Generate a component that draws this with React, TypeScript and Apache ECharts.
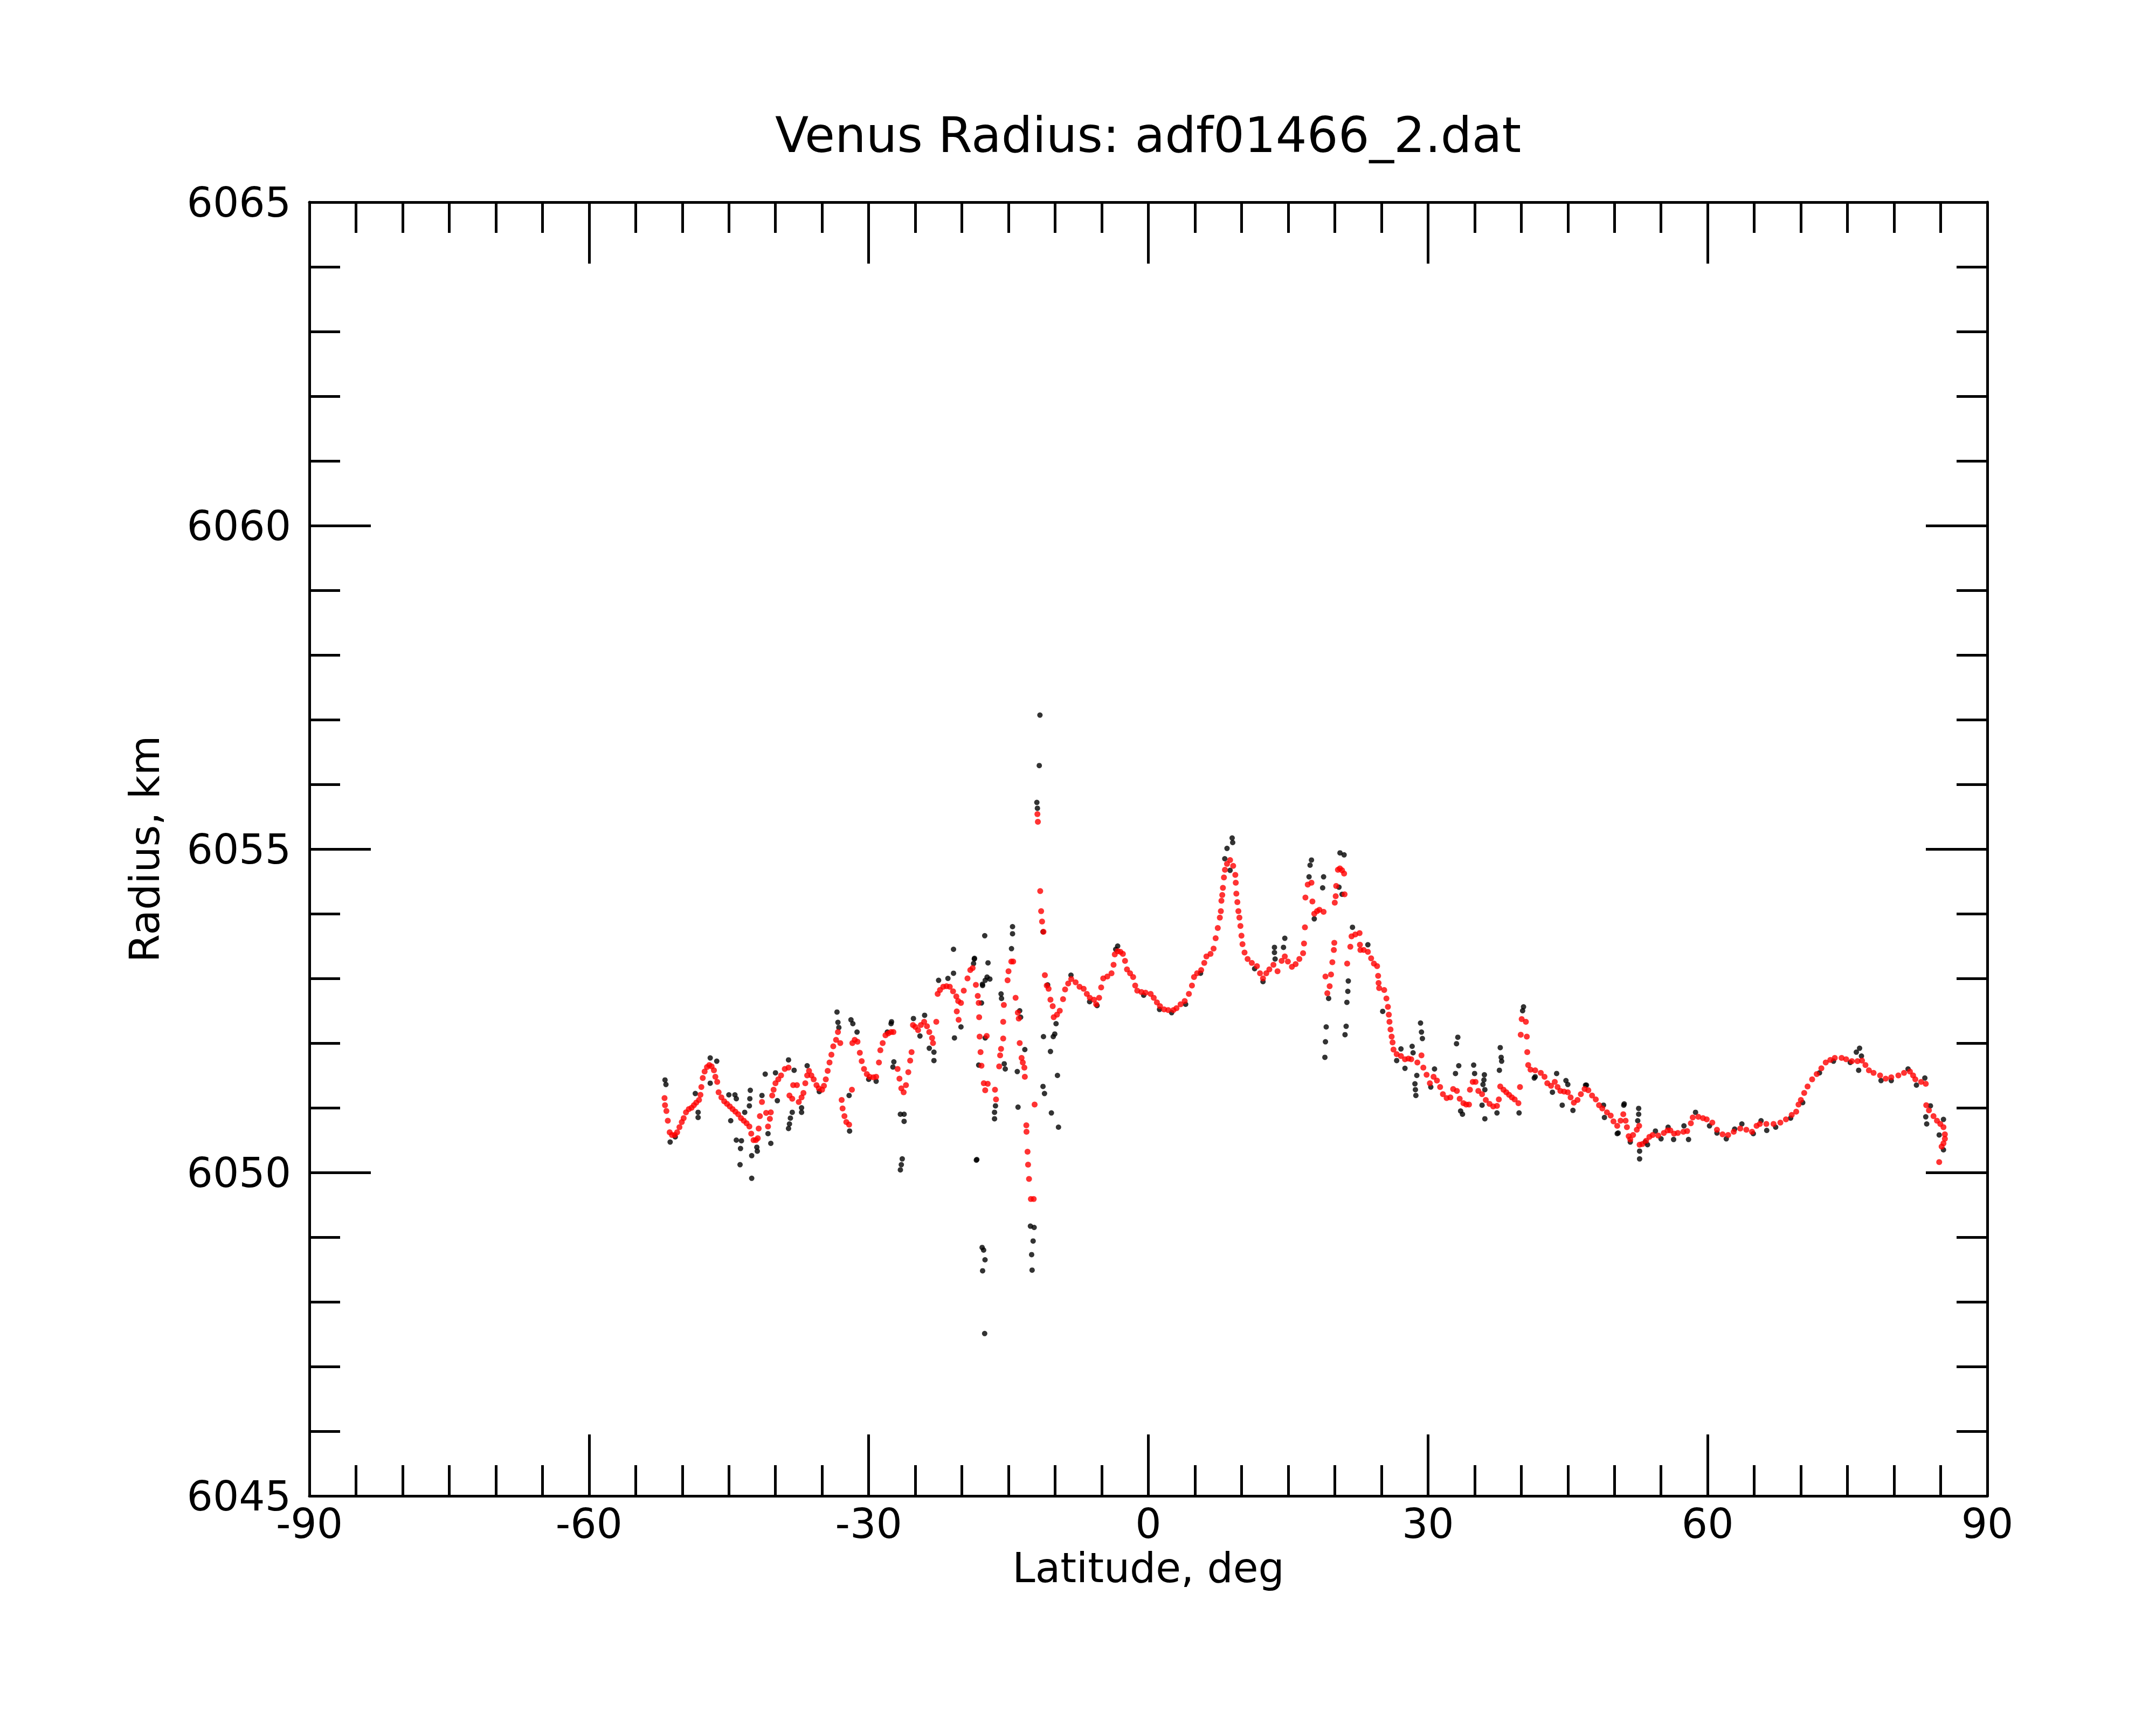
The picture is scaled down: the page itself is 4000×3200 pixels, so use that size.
import React, { useEffect, useRef } from "react";
import * as echarts from "echarts";

// ---- tick labels / axis settings ----
const xTicks = [-90, -60, -30, 0, 30, 60, 90];
const yTicks = [6045, 6050, 6055, 6060, 6065];
const titleText = "Venus Radius: adf01466_2.dat";
const xName = "Latitude, deg";
const yName = "Radius, km";

// ---- red (smoothed) points: [latitude, radius] ----
const redSouth: [number, number][] = [
  [-51.9, 6051.15], [-51.85, 6051.04], [-51.7, 6050.95], [-51.55, 6050.8], [-51.35, 6050.62],
  [-51.1, 6050.58], [-50.8, 6050.58], [-50.55, 6050.62], [-50.3, 6050.7], [-50.05, 6050.78],
  [-49.85, 6050.84], [-49.6, 6050.93], [-49.3, 6050.98], [-49.0, 6051.0], [-48.75, 6051.04],
  [-48.5, 6051.08], [-48.2, 6051.12], [-48.05, 6051.2], [-47.95, 6051.32], [-47.8, 6051.46],
  [-47.6, 6051.56], [-47.35, 6051.63], [-47.1, 6051.66], [-46.85, 6051.64], [-46.6, 6051.58],
  [-46.45, 6051.48], [-46.25, 6051.4], [-46.1, 6051.24], [-45.8, 6051.16], [-45.5, 6051.1],
  [-45.2, 6051.06], [-44.9, 6051.02], [-44.6, 6050.98], [-44.3, 6050.94], [-44.0, 6050.9],
  [-43.7, 6050.84], [-43.4, 6050.8], [-43.1, 6050.76], [-42.8, 6050.71], [-42.6, 6050.6],
  [-42.35, 6050.5], [-42.1, 6050.5], [-41.9, 6050.53], [-41.8, 6050.68], [-41.67, 6050.87],
  [-41.45, 6051.09], [-41.0, 6050.92], [-40.8, 6050.71], [-40.6, 6050.83], [-40.5, 6050.93],
  [-40.35, 6051.19], [-40.2, 6051.28], [-40.0, 6051.38], [-39.7, 6051.44], [-39.4, 6051.5],
  [-39.0, 6051.6], [-38.6, 6051.62], [-38.5, 6051.19], [-38.2, 6051.14], [-38.1, 6051.35],
  [-37.7, 6051.35], [-37.5, 6051.09], [-37.2, 6051.16], [-37.0, 6051.23], [-36.8, 6051.38],
  [-36.6, 6051.5], [-36.4, 6051.57], [-36.15, 6051.5], [-35.9, 6051.44], [-35.6, 6051.35],
  [-35.35, 6051.3], [-35.0, 6051.28], [-34.8, 6051.34], [-34.6, 6051.44], [-34.4, 6051.57],
  [-34.2, 6051.7], [-34.0, 6051.82], [-33.8, 6051.95], [-33.5, 6052.05], [-33.3, 6052.17],
  [-33.05, 6052.0], [-32.9, 6051.12], [-32.8, 6050.99], [-32.6, 6050.87], [-32.4, 6050.78],
  [-32.1, 6050.74], [-31.8, 6051.28], [-31.75, 6052.0], [-31.5, 6052.05], [-31.2, 6052.02],
  [-30.95, 6051.85], [-30.75, 6051.72], [-30.5, 6051.6], [-30.2, 6051.52], [-29.9, 6051.48],
  [-29.5, 6051.47], [-29.2, 6051.48], [-28.9, 6051.7], [-28.75, 6051.89], [-28.5, 6052.0],
  [-28.2, 6052.12], [-27.9, 6052.15], [-27.6, 6052.17], [-27.35, 6052.17], [-26.9, 6051.6],
  [-26.7, 6051.45], [-26.5, 6051.3], [-26.25, 6051.24], [-26.0, 6051.35], [-25.75, 6051.55],
  [-25.55, 6051.73], [-25.4, 6051.86], [-25.25, 6052.28], [-25.0, 6052.25], [-24.7, 6052.2],
  [-24.4, 6052.28], [-24.05, 6052.33], [-23.75, 6052.26], [-23.5, 6052.17], [-23.2, 6052.08],
  [-23.1, 6052.0], [-22.75, 6052.33], [-22.6, 6052.76], [-22.35, 6052.82], [-22.0, 6052.87],
  [-21.65, 6052.88], [-21.3, 6052.87], [-20.95, 6052.8], [-20.6, 6052.72], [-20.55, 6052.49],
  [-20.4, 6052.65], [-20.35, 6052.36], [-20.1, 6052.62], [-19.8, 6052.81], [-19.4, 6053.0],
  [-19.1, 6053.13], [-18.85, 6053.16], [-18.5, 6052.9], [-18.3, 6052.73], [-18.2, 6052.62],
  [-18.15, 6052.4], [-18.1, 6052.1], [-18.0, 6051.86], [-17.9, 6051.65], [-17.65, 6051.38],
  [-17.5, 6051.27],
];

const redMiddle: [number, number][] = [
  [-17.34, 6052.11], [-17.23, 6051.37], [-16.45, 6051.28], [-16.34, 6051.13], [-16.0, 6051.64],
  [-15.9, 6051.81], [-15.8, 6051.91], [-15.57, 6052.07], [-15.57, 6052.33], [-15.5, 6052.59],
  [-15.1, 6052.97], [-15.0, 6053.11], [-14.7, 6053.26], [-14.5, 6053.26], [-14.24, 6052.7],
  [-14.0, 6052.47], [-13.9, 6052.38], [-13.8, 6052.0], [-13.6, 6051.77], [-13.47, 6051.7],
  [-13.3, 6051.62], [-13.25, 6051.48], [-13.09, 6050.73], [-13.07, 6050.63], [-12.96, 6050.32],
  [-12.9, 6050.12], [-12.8, 6049.9], [-12.6, 6049.59], [-12.3, 6049.59], [-12.2, 6051.05],
  [-11.9, 6055.54], [-11.85, 6055.42], [-11.6, 6054.35], [-11.5, 6054.04], [-11.4, 6053.88],
  [-11.25, 6053.72], [-11.1, 6053.05], [-10.9, 6052.89], [-10.7, 6052.84], [-10.5, 6052.67],
  [-10.26, 6052.57], [-10.15, 6052.4], [-9.8, 6052.44], [-9.5, 6052.5], [-9.15, 6052.68],
  [-8.93, 6052.83], [-8.6, 6052.92], [-8.27, 6052.99], [-7.8, 6052.94], [-7.38, 6052.87],
  [-6.94, 6052.84], [-6.6, 6052.76], [-6.28, 6052.7], [-5.83, 6052.67], [-5.6, 6052.6],
  [-5.28, 6052.7], [-5.06, 6052.86], [-4.84, 6053.0], [-4.4, 6053.03], [-3.95, 6053.08],
  [-3.73, 6053.21], [-3.6, 6053.37], [-3.29, 6053.42], [-3.0, 6053.41], [-2.73, 6053.38],
  [-2.5, 6053.27], [-2.29, 6053.14], [-1.96, 6053.08], [-1.63, 6053.02], [-1.41, 6052.89],
  [-1.19, 6052.81], [-0.74, 6052.79], [-0.3, 6052.78], [0.25, 6052.76], [0.58, 6052.7],
  [0.92, 6052.63], [1.25, 6052.57], [1.69, 6052.52], [2.13, 6052.51], [2.69, 6052.51],
  [3.02, 6052.54], [3.46, 6052.6], [3.9, 6052.65], [4.35, 6052.76], [4.68, 6052.89],
  [4.9, 6053.02], [5.23, 6053.08], [5.67, 6053.13], [6.0, 6053.24], [6.23, 6053.34],
  [6.67, 6053.38], [7.0, 6053.46], [7.22, 6053.62], [7.45, 6053.78], [7.67, 6053.94],
  [7.78, 6054.04], [7.84, 6054.2], [7.93, 6054.29], [8.0, 6054.4], [8.11, 6054.56],
  [8.22, 6054.68], [8.44, 6054.77], [8.77, 6054.83], [9.1, 6054.74], [9.33, 6054.6],
  [9.38, 6054.48], [9.44, 6054.31], [9.55, 6054.18], [9.66, 6054.04], [9.77, 6053.94],
  [9.88, 6053.81], [9.99, 6053.66], [10.1, 6053.53], [10.32, 6053.4], [10.65, 6053.3],
  [11.1, 6053.24], [11.65, 6053.19], [11.98, 6053.08], [12.3, 6053.0], [12.65, 6053.08],
  [12.98, 6053.14], [13.42, 6053.21], [13.86, 6053.11], [14.3, 6053.27], [14.64, 6053.34],
  [14.97, 6053.26], [15.4, 6053.18],
];

const redNorth: [number, number][] = [
  [15.8, 6053.22], [16.2, 6053.3], [16.6, 6053.39], [16.7, 6053.54], [16.8, 6053.79],
  [16.85, 6054.25], [17.1, 6054.45], [17.5, 6054.48], [17.6, 6054.19], [17.8, 6054.0],
  [18.1, 6054.04], [18.35, 6054.06], [18.8, 6054.03], [19.0, 6053.03], [19.2, 6052.77],
  [19.45, 6052.88], [19.6, 6053.06], [19.74, 6053.25], [19.9, 6053.44], [19.95, 6053.55],
  [20.0, 6054.17], [20.1, 6054.27], [20.15, 6054.43], [20.34, 6054.68], [20.55, 6054.7],
  [20.78, 6054.67], [21.0, 6054.62], [21.05, 6054.3], [21.33, 6053.23], [21.67, 6053.49],
  [21.8, 6053.65], [22.2, 6053.68], [22.66, 6053.7], [22.7, 6053.52], [22.75, 6053.44],
  [23.1, 6053.44], [23.55, 6053.41], [23.9, 6053.31], [24.2, 6053.23], [24.54, 6053.19],
  [24.65, 6053.04], [24.7, 6052.93], [24.76, 6052.85], [25.3, 6052.82], [25.54, 6052.69],
  [25.7, 6052.56], [25.8, 6052.44], [25.87, 6052.33], [25.98, 6052.21], [26.1, 6052.1],
  [26.2, 6052.01], [26.3, 6051.9], [26.64, 6051.83], [27.1, 6051.8], [27.53, 6051.75],
  [27.9, 6051.76], [28.2, 6051.75], [28.86, 6051.7], [29.3, 6051.81], [29.5, 6051.62],
  [29.85, 6051.51], [30.2, 6051.38], [30.6, 6051.48], [30.96, 6051.42], [31.3, 6051.32],
  [31.6, 6051.21], [32.0, 6051.15], [32.4, 6051.16], [32.7, 6051.29], [33.1, 6051.26],
  [33.4, 6051.14], [33.8, 6051.07], [34.1, 6051.05], [34.4, 6051.05], [34.5, 6051.28],
  [34.8, 6051.4], [35.1, 6051.4], [35.4, 6051.26], [35.8, 6051.21], [36.2, 6051.12],
  [36.6, 6051.06], [37.0, 6051.02], [37.4, 6051.03], [37.6, 6051.13], [37.75, 6051.33],
  [38.1, 6051.28], [38.4, 6051.24], [38.7, 6051.2], [39.0, 6051.16], [39.3, 6051.13],
  [39.7, 6051.07], [39.87, 6051.32], [39.95, 6052.13], [40.05, 6052.37], [40.5, 6052.33],
  [40.6, 6052.1], [40.65, 6051.86], [40.75, 6051.66], [41.0, 6051.59], [41.5, 6051.58],
  [42.1, 6051.54], [42.5, 6051.48], [42.8, 6051.38], [43.2, 6051.34], [43.6, 6051.4],
  [43.9, 6051.32], [44.2, 6051.26], [44.6, 6051.25], [45.0, 6051.24], [45.3, 6051.16],
  [45.65, 6051.08], [46.04, 6051.12], [46.4, 6051.21], [46.8, 6051.29], [47.2, 6051.27],
  [47.6, 6051.19], [48.0, 6051.13], [48.35, 6051.04], [48.7, 6050.99], [49.2, 6050.93],
  [49.6, 6050.88], [49.9, 6050.79], [50.3, 6050.72], [50.66, 6050.8], [50.95, 6050.9],
  [51.2, 6050.8], [51.34, 6050.7], [51.53, 6050.56], [51.7, 6050.51], [52.0, 6050.58],
  [52.4, 6050.66], [52.65, 6050.72], [52.7, 6050.43], [53.0, 6050.44], [53.4, 6050.49],
  [53.75, 6050.55], [54.1, 6050.58], [54.7, 6050.57], [55.3, 6050.61], [55.7, 6050.65],
  [56.0, 6050.65], [56.4, 6050.6], [56.8, 6050.61], [57.4, 6050.63], [57.8, 6050.64],
  [58.2, 6050.76], [58.4, 6050.85], [59.0, 6050.86], [59.5, 6050.84], [59.9, 6050.82],
  [60.5, 6050.77], [61.0, 6050.66], [61.6, 6050.59], [62.2, 6050.58], [62.8, 6050.63],
  [63.5, 6050.68], [64.15, 6050.66], [64.76, 6050.63], [65.25, 6050.72], [65.6, 6050.75],
  [66.3, 6050.75], [67.07, 6050.75], [67.8, 6050.77], [68.4, 6050.82], [69.02, 6050.89],
  [69.5, 6050.94], [69.75, 6051.05], [70.0, 6051.12], [70.36, 6051.23], [70.72, 6051.33],
  [71.21, 6051.44], [71.7, 6051.52], [72.2, 6051.61], [72.67, 6051.7], [73.16, 6051.74],
  [73.64, 6051.77], [74.37, 6051.77], [74.86, 6051.75], [75.47, 6051.72], [76.08, 6051.72],
  [76.56, 6051.73], [76.93, 6051.66], [77.3, 6051.58], [77.8, 6051.54], [78.5, 6051.5],
  [79.1, 6051.45], [79.7, 6051.47], [80.46, 6051.5], [81.07, 6051.54], [81.7, 6051.56],
  [82.04, 6051.5], [82.28, 6051.44], [82.9, 6051.4], [83.4, 6051.37], [83.45, 6051.04],
  [83.74, 6050.96], [84.23, 6050.87], [84.6, 6050.8], [84.96, 6050.75], [85.3, 6050.7],
  [85.45, 6050.59], [85.45, 6050.52], [85.3, 6050.45], [85.1, 6050.4], [84.84, 6050.16],
];

// ---- black (raw) points: [latitude, radius] ----
const blackSouth: [number, number][] = [
  [-51.85, 6051.43], [-51.75, 6051.36], [-51.3, 6050.47], [-50.75, 6050.55], [-48.6, 6051.22],
  [-48.3, 6050.93], [-48.3, 6050.85], [-47.0, 6051.77], [-46.3, 6051.72], [-47.0, 6051.38],
  [-45.0, 6051.2], [-44.35, 6051.2], [-44.2, 6051.14], [-44.8, 6050.8], [-44.2, 6050.5],
  [-43.65, 6050.49], [-43.75, 6050.37], [-43.8, 6050.12], [-43.3, 6050.93], [-42.7, 6051.27],
  [-42.75, 6051.14], [-42.8, 6051.03], [-42.55, 6050.26], [-42.55, 6049.91], [-42.0, 6050.39],
  [-41.95, 6050.33], [-41.1, 6051.52], [-41.45, 6051.19], [-40.8, 6050.6], [-40.5, 6050.45],
  [-39.8, 6051.11], [-40.0, 6051.54], [-38.6, 6051.74], [-38.6, 6050.68], [-38.5, 6050.75],
  [-38.4, 6050.84], [-38.2, 6050.93], [-38.0, 6051.58], [-37.2, 6050.93], [-37.2, 6051.0],
  [-36.6, 6051.65], [-35.3, 6051.25], [-33.4, 6052.48], [-33.3, 6052.32], [-33.2, 6052.24],
  [-32.05, 6050.64], [-32.1, 6051.19], [-31.9, 6052.36], [-31.7, 6052.3], [-31.25, 6052.17],
  [-30.0, 6051.44], [-29.2, 6051.41], [-28.0, 6052.17], [-27.6, 6052.3], [-27.55, 6052.33],
  [-27.4, 6051.63], [-27.3, 6051.71], [-26.6, 6050.9], [-26.2, 6050.9], [-26.2, 6050.79],
  [-26.4, 6050.21], [-26.5, 6050.12], [-26.6, 6050.04], [-25.2, 6052.38], [-24.5, 6052.11],
  [-24.0, 6052.43], [-23.5, 6051.92], [-23.0, 6051.86], [-23.0, 6051.73], [-22.5, 6052.97],
  [-21.5, 6053.0], [-20.9, 6053.08], [-20.9, 6053.45], [-20.8, 6052.08], [-20.1, 6052.25],
  [-18.65, 6053.31], [-18.75, 6053.23], [-18.4, 6050.2], [-17.9, 6052.62], [-17.8, 6052.91],
  [-17.55, 6053.66], [-17.5, 6052.97], [-18.2, 6051.66], [-17.5, 6052.08],
];

const blackMiddle: [number, number][] = [
  [-18.67, 6053.3], [-17.2, 6053.24], [-17.0, 6052.99], [-17.3, 6053.02], [-17.78, 6052.89],
  [-15.8, 6052.76], [-15.75, 6052.69], [-14.57, 6053.8], [-14.57, 6053.69], [-14.68, 6053.46],
  [-13.8, 6052.5], [-13.7, 6052.4], [-11.63, 6057.07], [-11.7, 6056.29], [-11.96, 6055.72],
  [-11.9, 6055.63], [-11.3, 6053.72], [-10.8, 6052.9], [-9.9, 6052.3], [-11.25, 6052.1],
  [-10.04, 6052.14], [-10.2, 6052.1], [-10.5, 6051.87], [-13.25, 6051.9], [-15.46, 6051.68],
  [-15.35, 6051.6], [-14.06, 6051.56], [-9.75, 6051.5], [-11.3, 6051.33], [-11.14, 6051.22],
  [-13.98, 6051.01], [-10.4, 6050.92], [-9.64, 6050.7], [-16.4, 6051.03], [-16.5, 6050.93],
  [-16.5, 6050.83], [-18.45, 6050.19], [-12.65, 6049.17], [-12.25, 6049.15], [-12.36, 6048.94],
  [-12.52, 6048.73], [-12.47, 6048.49], [-17.83, 6048.84], [-17.67, 6048.8], [-17.52, 6048.65],
  [-17.78, 6048.48], [-17.56, 6047.51], [-8.3, 6053.05], [-3.29, 6053.5], [-3.5, 6053.45],
  [-5.5, 6052.58], [-6.3, 6052.64], [-0.5, 6052.74], [1.2, 6052.52], [2.5, 6052.47],
  [4.0, 6052.6], [5.6, 6053.08], [8.99, 6055.17], [9.05, 6055.1], [8.44, 6055.01],
  [8.2, 6054.85], [8.77, 6054.67], [11.4, 6053.15], [12.3, 6052.95], [13.53, 6053.48],
  [13.53, 6053.4], [13.6, 6053.3], [14.5, 6053.48], [14.64, 6053.62],
];

const blackNorth: [number, number][] = [
  [17.5, 6054.83], [17.35, 6054.75], [17.24, 6054.57], [18.8, 6054.57], [18.7, 6054.4],
  [17.8, 6053.92], [20.56, 6054.94], [21.0, 6054.91], [20.45, 6054.41], [20.78, 6054.3],
  [19.34, 6052.69], [19.08, 6052.25], [19.0, 6052.02], [18.94, 6051.78], [21.45, 6052.96],
  [21.4, 6052.8], [21.3, 6052.63], [21.22, 6052.26], [21.1, 6052.13], [21.9, 6053.79],
  [23.55, 6053.52], [25.14, 6052.49], [27.1, 6051.91], [26.64, 6051.73], [27.53, 6051.61],
  [28.3, 6051.95], [28.4, 6051.85], [29.2, 6052.31], [29.3, 6052.17], [29.4, 6052.07],
  [28.8, 6051.5], [28.6, 6051.37], [28.65, 6051.28], [28.7, 6051.19], [30.7, 6051.6],
  [30.3, 6051.32], [33.2, 6052.09], [33.06, 6051.99], [33.3, 6051.65], [32.95, 6051.53],
  [33.7, 6050.9], [33.5, 6050.95], [34.9, 6051.66], [35.0, 6051.53], [36.05, 6051.51],
  [36.0, 6051.43], [35.9, 6051.36], [36.1, 6051.28], [35.8, 6051.04], [36.1, 6050.83],
  [37.4, 6050.92], [37.75, 6051.93], [37.85, 6051.78], [37.9, 6051.72], [37.66, 6051.58],
  [39.77, 6050.92], [40.25, 6052.56], [40.15, 6052.5], [41.4, 6051.46], [41.5, 6051.48],
  [43.8, 6051.53], [43.35, 6051.24], [44.4, 6051.04], [44.8, 6051.42], [45.0, 6051.36],
  [45.55, 6050.96], [46.9, 6051.35], [47.0, 6051.35], [48.83, 6051.04], [48.93, 6050.85],
  [50.3, 6050.6], [50.4, 6050.61], [51.0, 6051.04], [51.05, 6051.06], [51.7, 6050.47],
  [52.5, 6050.8], [52.6, 6050.9], [52.6, 6050.99], [52.7, 6050.33], [52.7, 6050.21],
  [53.3, 6050.47], [53.55, 6050.43], [54.4, 6050.64], [55.0, 6050.52], [55.76, 6050.7],
  [56.35, 6050.51], [57.46, 6050.72], [57.95, 6050.51], [58.7, 6050.93], [60.2, 6050.72],
  [61.0, 6050.61], [62.0, 6050.52], [62.9, 6050.67], [63.67, 6050.75], [64.9, 6050.6],
  [65.73, 6050.8], [66.34, 6050.65], [67.3, 6050.7], [68.9, 6050.84], [70.2, 6051.08],
  [72.0, 6051.54], [73.5, 6051.72], [75.3, 6051.7], [75.95, 6051.86], [76.3, 6051.92],
  [76.2, 6051.58], [76.5, 6051.8], [78.6, 6051.42], [79.7, 6051.42], [81.5, 6051.6],
  [82.4, 6051.35], [83.3, 6051.46], [83.9, 6051.03], [83.4, 6050.86], [83.5, 6050.75],
  [85.3, 6050.82], [84.84, 6050.58], [85.3, 6050.35],
];

const redPoints = [...redSouth, ...redMiddle, ...redNorth];
const blackPoints = [...blackSouth, ...blackMiddle, ...blackNorth];

const FONT = "DejaVu Sans";
const W = 4000;
const H = 3200;

function axisCommon(showLabels: boolean, isX: boolean) {
  return {
    type: "value" as const,
    min: isX ? xTicks[0] : yTicks[0],
    max: isX ? xTicks[xTicks.length - 1] : yTicks[yTicks.length - 1],
    interval: isX ? 30 : 5,
    axisLine: { show: true, onZero: false, lineStyle: { color: "#000", width: 5 } },
    axisTick: { show: true, inside: true, length: 114, lineStyle: { color: "#000", width: 5 } },
    minorTick: { show: true, splitNumber: isX ? 6 : 5, length: 57, lineStyle: { color: "#000", width: 5 } },
    splitLine: { show: false },
    minorSplitLine: { show: false },
    axisLabel: {
      show: showLabels,
      fontSize: 76,
      fontFamily: FONT,
      color: "#000",
      margin: isX ? 13 : 34,
      showMinLabel: true,
      showMaxLabel: true,
      hideOverlap: false,
      formatter: (v: number) => String(v),
    },
  };
}

export default function App() {
  const ref = useRef<HTMLDivElement>(null);
  useEffect(() => {
    if (!ref.current) return;
    const chart = echarts.init(ref.current, null, { renderer: "svg", width: W, height: H });
    chart.setOption({
      animation: false,
      backgroundColor: "#fff",
      title: {
        text: titleText,
        left: 2130,
        top: 205,
        padding: 0,
        textAlign: "center",
        textStyle: { fontSize: 91, fontFamily: FONT, fontWeight: "normal", color: "#000" },
      },
      grid: { left: 574, right: 313, top: 375, bottom: 425, containLabel: false, outerBoundsMode: "none" },
      xAxis: [
        {
          ...axisCommon(true, true),
          position: "bottom",
          name: xName,
          nameLocation: "middle",
          nameGap: 95,
          nameTextStyle: { fontSize: 76, fontFamily: FONT, color: "#000" },
        },
        { ...axisCommon(false, true), position: "top" },
      ],
      yAxis: [
        {
          ...axisCommon(true, false),
          position: "left",
          name: yName,
          nameLocation: "middle",
          nameGap: 268,
          nameRotate: 90,
          nameTextStyle: { fontSize: 76, fontFamily: FONT, color: "#000" },
        },
        { ...axisCommon(false, false), position: "right" },
      ],
      series: [
        {
          type: "scatter",
          name: "raw",
          xAxisIndex: 0,
          yAxisIndex: 0,
          data: blackPoints,
          symbol: "circle",
          symbolSize: 10,
          itemStyle: { color: "#000" },
          silent: true,
          z: 2,
        },
        {
          type: "scatter",
          name: "smoothed",
          xAxisIndex: 0,
          yAxisIndex: 0,
          data: redPoints,
          symbol: "circle",
          symbolSize: 11,
          itemStyle: { color: "#ff0000" },
          silent: true,
          z: 3,
        },
      ],
    });
    return () => chart.dispose();
  }, []);
  return (
    <div
      ref={ref}
      style={{ position: "fixed", left: 0, top: 0, width: W, height: H, background: "#fff" }}
    />
  );
}
